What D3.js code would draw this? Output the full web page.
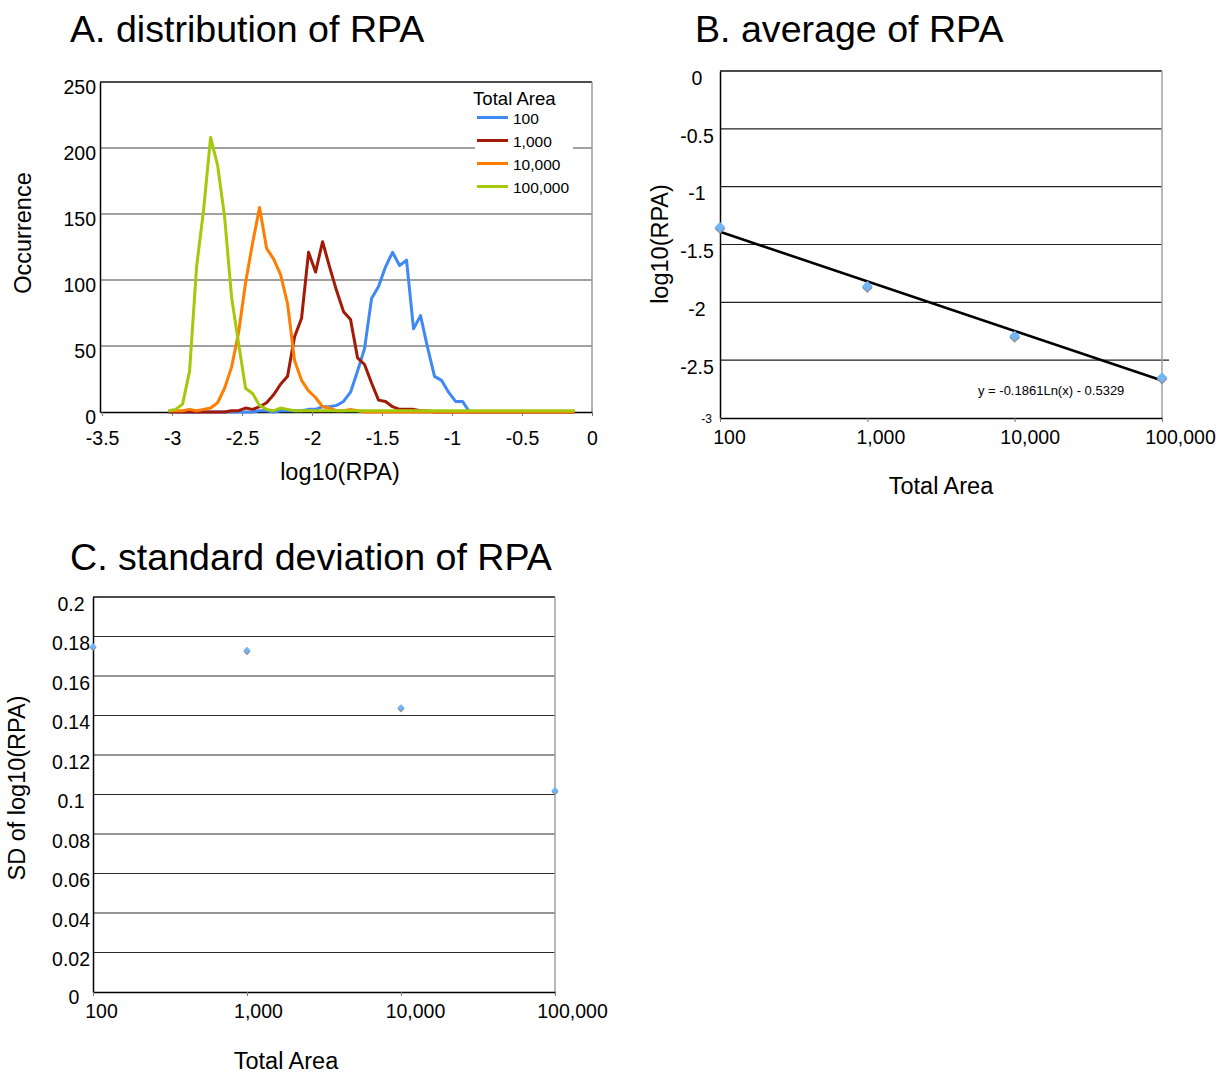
<!DOCTYPE html>
<html>
<head>
<meta charset="utf-8">
<title>RPA distribution, average and SD</title>
<script src="https://cdn.jsdelivr.net/npm/d3@7"></script>
<style>
    body { margin: 0; background: #fff; }
    svg { display: block; font-family: "Liberation Sans", Arial, Helvetica, sans-serif; }
</style>
</head>
<body>
<div id="chart-area"></div>
<script>
/*
*    RPA charts: A. distribution, B. average, C. standard deviation
*/

// ---- data ----
const binCenters = [
    -3.025, -2.975, -2.925, -2.875, -2.825, -2.775, -2.725, -2.675, -2.625, -2.575,
    -2.525, -2.475, -2.425, -2.375, -2.325, -2.275, -2.225, -2.175, -2.125, -2.075,
    -2.025, -1.975, -1.925, -1.875, -1.825, -1.775, -1.725, -1.675, -1.625, -1.575,
    -1.525, -1.475, -1.425, -1.375, -1.325, -1.275, -1.225, -1.175, -1.125, -1.075,
    -1.025, -0.975, -0.925, -0.875, -0.825, -0.775, -0.725, -0.675, -0.625, -0.575,
    -0.525, -0.475, -0.425, -0.375, -0.325, -0.275, -0.225, -0.175, -0.125
];

const counts100 = [
    0, 0, 0, 0, 0, 0, 0, 0, 0, 0,
    0, 0, 0, 1, 1, 0, 1, 1, 1, 1,
    2, 2, 4, 4, 5, 8, 15, 31, 48, 86,
    95, 110, 121, 111, 115, 63, 73, 49, 27, 24,
    15, 8, 8, 0, 0, 0, 0, 0, 0, 0,
    0, 0, 0, 0, 0, 0, 0, 0, 0
];

const counts1000 = [
    0, 0, 0, 0, 0, 0, 0, 0, 0, 1,
    1, 3, 2, 4, 7, 13, 21, 27, 57, 71,
    121, 106, 129, 110, 92, 76, 70, 41, 36, 22,
    9, 8, 4, 2, 2, 2, 1, 1, 0, 0,
    0, 0, 0, 0, 0, 0, 0, 0, 0, 0,
    0, 0, 0, 0, 0, 0, 0, 0, 0
];

const counts10000 = [
    1, 1, 1, 2, 1, 2, 3, 7, 18, 34,
    60, 98, 128, 155, 124, 116, 104, 82, 39, 24,
    16, 11, 4, 3, 1, 1, 2, 1, 0, 0,
    0, 0, 0, 0, 0, 0, 0, 0, 0, 0,
    0, 0, 0, 0, 0, 0, 0, 0, 0, 0,
    0, 0, 0, 0, 0, 0, 0, 0, 0
];

const counts100000 = [
    1, 2, 6, 31, 110, 153, 208, 187, 148, 87,
    52, 18, 14, 5, 2, 1, 3, 2, 1, 1,
    1, 1, 1, 1, 1, 1, 1, 1, 1, 1,
    1, 1, 1, 1, 1, 1, 1, 1, 1, 1,
    1, 1, 1, 1, 1, 1, 1, 1, 1, 1,
    1, 1, 1, 1, 1, 1, 1, 1, 1
];

const seriesLabels = ['100', '1,000', '10,000', '100,000'];
const seriesColors = ['#3f88f6', '#a21b06', '#ff7d00', '#a3c90a'];

const countTicks = [0, 50, 100, 150, 200, 250];
const logRpaTicks = [-3.5, -3, -2.5, -2, -1.5, -1, -0.5, 0];

const totalAreas = [100, 1000, 10000, 100000];
const areaTickLabels = ['100', '1,000', '10,000', '100,000'];

const meanLog10RPA = [-1.35, -1.86, -2.29, -2.65];
const meanTicks = [0, -0.5, -1, -1.5, -2, -2.5, -3];
const trendSlope = -0.1861;
const trendIntercept = -0.5329;

const sdLog10RPA = [0.175, 0.173, 0.144, 0.102];
const sdTicks = [0, 0.02, 0.04, 0.06, 0.08, 0.1, 0.12, 0.14, 0.16, 0.18, 0.2];


window.addEventListener('DOMContentLoaded', (event) => {

    const svg = d3.select('#chart-area')
        .append('svg')
        .attr('width', 1221)
        .attr('height', 1073);

    const tickFont = 19.5;
    const titleFont = 37.6;
    const axisTitleFont = 23.5;
    const markerFill = '#72b4f6';

    const styleAxis = (g) => {
        g.attr('font-family', null).attr('font-size', null);
        g.select('.domain').attr('stroke', '#000').attr('stroke-width', 1.5);
        g.selectAll('.tick line').attr('stroke', '#777').attr('stroke-width', 1);
        g.selectAll('.tick text').attr('fill', '#000').style('font-size', tickFont + 'px');
    };

    const diamond = d3.symbol().type(d3.symbolSquare);

    // ================= A. distribution of RPA =================
    const xA = d3.scaleLinear().domain([-3.515, 0]).range([100, 592]);
    const yA = d3.scaleLinear().domain([0, 250]).range([412, 82]);

    const panelA = svg.append('g');

    panelA.append('text')
        .attr('x', 70).attr('y', 42)
        .style('font-size', titleFont + 'px')
        .text('A. distribution of RPA');

    panelA.append('g')
        .selectAll('line')
        .data(countTicks.slice(1))
        .join('line')
            .attr('x1', xA.range()[0]).attr('x2', xA.range()[1])
            .attr('y1', (d) => yA(d)).attr('y2', (d) => yA(d))
            .attr('stroke', (d) => d === 250 ? '#111' : '#444')
            .attr('stroke-width', (d) => d === 250 ? 1.5 : 1.2);

    panelA.append('line')
        .attr('x1', xA.range()[1]).attr('x2', xA.range()[1])
        .attr('y1', yA(250)).attr('y2', yA(0))
        .attr('stroke', '#9a9a9a').attr('stroke-width', 1.5);

    panelA.append('g')
        .attr('transform', `translate(${xA.range()[0]},0)`)
        .call(d3.axisLeft(yA).tickValues(countTicks).tickSize(0).tickPadding(4).tickFormat((d) => String(d)))
        .call(styleAxis)
        .call((g) => g.selectAll('.tick text').attr('y', 5));

    panelA.append('g')
        .attr('transform', `translate(0,${yA(0)})`)
        .call(d3.axisBottom(xA).tickValues(logRpaTicks).tickSize(4).tickSizeOuter(0).tickFormat((d) => String(d)))
        .call(styleAxis)
        .call((g) => g.selectAll('.tick text').attr('y', 19));

    const histLine = d3.line()
        .x((d, i) => xA(binCenters[i]))
        .y((d) => yA(d));

    panelA.append('g')
        .selectAll('path')
        .data([counts100, counts1000, counts10000, counts100000])
        .join('path')
            .attr('d', histLine)
            .attr('fill', 'none')
            .attr('stroke', (d, i) => seriesColors[i])
            .attr('stroke-width', 3)
            .attr('stroke-linejoin', 'round');

    // legend
    const legend = panelA.append('g');
    legend.append('rect')
        .attr('x', 475).attr('y', 86).attr('width', 98).attr('height', 110)
        .attr('fill', '#fff');
    legend.append('text')
        .attr('x', 473).attr('y', 105)
        .style('font-size', '18.6px')
        .text('Total Area');
    const legendItem = legend.selectAll('g.item')
        .data(seriesLabels)
        .join('g')
            .attr('class', 'item')
            .attr('transform', (d, i) => `translate(477,${117.5 + i * 23})`);
    legendItem.append('line')
        .attr('x1', 0).attr('x2', 31)
        .attr('stroke', (d, i) => seriesColors[i])
        .attr('stroke-width', 3);
    legendItem.append('text')
        .attr('x', 36).attr('y', 6)
        .style('font-size', '15.5px')
        .text((d) => d);

    panelA.append('text')
        .attr('transform', 'translate(31,233) rotate(-90)')
        .attr('text-anchor', 'middle')
        .style('font-size', axisTitleFont + 'px')
        .text('Occurrence');

    panelA.append('text')
        .attr('x', 340).attr('y', 480)
        .attr('text-anchor', 'middle')
        .style('font-size', axisTitleFont + 'px')
        .text('log10(RPA)');

    // ================= B. average of RPA =================
    const xB = d3.scaleLog().domain([100, 100000]).range([720, 1162]);
    const yB = d3.scaleLinear().domain([-3, 0]).range([418, 71]);
    const labelShiftB = [9, 13, 15, 18];

    const panelB = svg.append('g');

    panelB.append('text')
        .attr('x', 695).attr('y', 42)
        .style('font-size', titleFont + 'px')
        .text('B. average of RPA');

    panelB.append('g')
        .selectAll('line')
        .data(meanTicks.filter((d) => d > -3))
        .join('line')
            .attr('x1', xB.range()[0])
            .attr('x2', (d) => d === -2.5 ? xB.range()[1] + 7 : xB.range()[1])
            .attr('y1', (d) => yB(d)).attr('y2', (d) => yB(d))
            .attr('stroke', (d) => d === 0 ? '#111' : '#222')
            .attr('stroke-width', (d) => d === 0 ? 1.5 : 1.2);

    panelB.append('line')
        .attr('x1', xB.range()[1]).attr('x2', xB.range()[1])
        .attr('y1', yB(0)).attr('y2', yB(-3))
        .attr('stroke', '#a0a0a0').attr('stroke-width', 1.5);

    panelB.append('g')
        .attr('transform', `translate(${xB.range()[0]},0)`)
        .call(d3.axisLeft(yB).tickValues(meanTicks).tickSize(0).tickFormat((d) => String(d)))
        .call(styleAxis)
        .call((g) => g.selectAll('.tick text')
            .attr('text-anchor', (d) => d === -3 ? 'end' : 'middle')
            .attr('x', (d) => d === -3 ? -8 : -23)
            .attr('y', (d) => d === -3 ? 1 : 7)
            .style('font-size', (d) => d === -3 ? '12px' : tickFont + 'px'));

    panelB.append('g')
        .attr('transform', `translate(0,${yB(-3)})`)
        .call(d3.axisBottom(xB).tickValues(totalAreas).tickSize(4).tickSizeOuter(0)
            .tickFormat((d, i) => areaTickLabels[i]))
        .call(styleAxis)
        .call((g) => g.selectAll('.tick text')
            .attr('y', 12)
            .attr('dx', (d, i) => labelShiftB[i]));

    const trendLine = d3.line()
        .x((d) => xB(d))
        .y((d) => yB(trendSlope * Math.log(d) + trendIntercept));

    panelB.append('path')
        .datum([totalAreas[0], totalAreas[totalAreas.length - 1]])
        .attr('d', trendLine)
        .attr('fill', 'none')
        .attr('stroke', '#000')
        .attr('stroke-width', 2.6);

    const markersB = panelB.append('g')
        .selectAll('g')
        .data(meanLog10RPA)
        .join('g')
            .attr('transform', (d, i) => `translate(${xB(totalAreas[i])},${yB(d)})`);
    markersB.append('path')
        .attr('d', diamond.size(58))
        .attr('transform', 'translate(0,1.5) rotate(45)')
        .attr('fill', '#8a8f96');
    markersB.append('path')
        .attr('d', diamond.size(56))
        .attr('transform', 'rotate(45)')
        .attr('fill', markerFill);

    panelB.append('text')
        .attr('x', 978).attr('y', 394.5)
        .style('font-size', '13px')
        .text('y = -0.1861Ln(x) - 0.5329');

    panelB.append('text')
        .attr('transform', 'translate(668,244) rotate(-90)')
        .attr('text-anchor', 'middle')
        .style('font-size', axisTitleFont + 'px')
        .text('log10(RPA)');

    panelB.append('text')
        .attr('x', 941).attr('y', 494)
        .attr('text-anchor', 'middle')
        .style('font-size', axisTitleFont + 'px')
        .text('Total Area');

    // ================= C. standard deviation of RPA =================
    const xC = d3.scaleLog().domain([100, 100000]).range([93, 555]);
    const yC = d3.scaleLinear().domain([0, 0.2]).range([992, 597]);
    const labelShiftC = [8, 11, 14, 17];

    const panelC = svg.append('g');

    panelC.append('text')
        .attr('x', 70).attr('y', 570)
        .style('font-size', titleFont + 'px')
        .text('C. standard deviation of RPA');

    panelC.append('g')
        .selectAll('line')
        .data(sdTicks.slice(1))
        .join('line')
            .attr('x1', xC.range()[0]).attr('x2', xC.range()[1])
            .attr('y1', (d) => yC(d)).attr('y2', (d) => yC(d))
            .attr('stroke', (d) => d === 0.2 ? '#111' : '#2a2a2a')
            .attr('stroke-width', (d) => d === 0.2 ? 1.5 : 1.2);

    panelC.append('line')
        .attr('x1', xC.range()[1]).attr('x2', xC.range()[1])
        .attr('y1', yC(0.2)).attr('y2', yC(0))
        .attr('stroke', '#a0a0a0').attr('stroke-width', 1.5);

    panelC.append('g')
        .attr('transform', `translate(${xC.range()[0]},0)`)
        .call(d3.axisLeft(yC).tickValues(sdTicks).tickSize(0).tickFormat((d) => String(d)))
        .call(styleAxis)
        .call((g) => g.selectAll('.tick text')
            .attr('text-anchor', 'middle')
            .attr('x', (d) => d === 0 ? -19 : -22)
            .attr('y', (d) => d === 0 ? 5 : 7));

    panelC.append('g')
        .attr('transform', `translate(0,${yC(0)})`)
        .call(d3.axisBottom(xC).tickValues(totalAreas).tickSize(4).tickSizeOuter(0)
            .tickFormat((d, i) => areaTickLabels[i]))
        .call(styleAxis)
        .call((g) => g.selectAll('.tick text')
            .attr('y', 12)
            .attr('dx', (d, i) => labelShiftC[i]));

    const markersC = panelC.append('g')
        .selectAll('g')
        .data(sdLog10RPA)
        .join('g')
            .attr('transform', (d, i) => `translate(${xC(totalAreas[i])},${yC(d)})`);
    markersC.append('path')
        .attr('d', diamond.size(26))
        .attr('transform', 'translate(0,1.2) rotate(45)')
        .attr('fill', '#8a8f96');
    markersC.append('path')
        .attr('d', diamond.size(24))
        .attr('transform', 'rotate(45)')
        .attr('fill', markerFill);

    panelC.append('text')
        .attr('transform', 'translate(25,788) rotate(-90)')
        .attr('text-anchor', 'middle')
        .style('font-size', axisTitleFont + 'px')
        .text('SD of log10(RPA)');

    panelC.append('text')
        .attr('x', 286).attr('y', 1069)
        .attr('text-anchor', 'middle')
        .style('font-size', axisTitleFont + 'px')
        .text('Total Area');

}); // End of document ready.
</script>
</body>
</html>
